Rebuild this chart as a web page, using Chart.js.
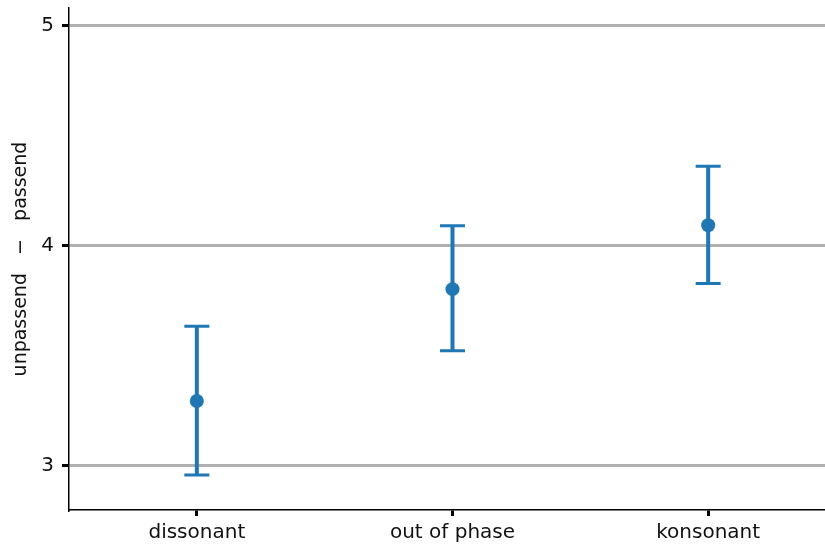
<!DOCTYPE html>
<html>
<head>
<meta charset="utf-8">
<script src="https://cdn.jsdelivr.net/npm/chart.js@4"></script>
<style>
  html, body { margin: 0; padding: 0; background: #fff; }
  #wrap { width: 825px; height: 545px; }
</style>
</head>
<body>
<div id="wrap"><canvas id="c" width="825" height="545"></canvas></div>
<script>
const categories = ["dissonant", "out of phase", "konsonant"];
const means = [3.295, 3.803, 4.093];
const upper = [3.634, 4.091, 4.361];
const lower = [2.959, 3.523, 3.829];
const yTicks = [3, 4, 5];

const blue = "#1f77b4";

const errorBars = {
  id: "errorBars",
  beforeDatasetsDraw(chart) {
    const ctx = chart.ctx;
    const xs = chart.scales.x, ys = chart.scales.y;
    ctx.save();
    ctx.strokeStyle = blue;
    categories.forEach((c, i) => {
      const x = xs.getPixelForValue(i);
      const yt = ys.getPixelForValue(upper[i]);
      const yb = ys.getPixelForValue(lower[i]);
      ctx.lineWidth = 4;
      ctx.beginPath();
      ctx.moveTo(x, yt); ctx.lineTo(x, yb);
      ctx.stroke();
      ctx.lineWidth = 3;
      ctx.beginPath();
      ctx.moveTo(x - 12.5, yt); ctx.lineTo(x + 12.5, yt);
      ctx.moveTo(x - 12.5, yb); ctx.lineTo(x + 12.5, yb);
      ctx.stroke();
    });
    ctx.restore();
  }
};

new Chart(document.getElementById("c"), {
  type: "scatter",
  data: {
    datasets: [{
      data: means.map((m, i) => ({ x: i, y: m })),
      backgroundColor: blue,
      borderColor: blue,
      pointRadius: 7,
      pointHoverRadius: 7,
      borderWidth: 0
    }]
  },
  options: {
    responsive: false,
    animation: false,
    devicePixelRatio: 1,
    layout: { autoPadding: false, padding: { top: 8, right: 0, left: 0, bottom: 0 } },
    plugins: { legend: { display: false }, tooltip: { enabled: false } },
    scales: {
      x: {
        type: "linear",
        min: -0.5,
        max: 2.457,
        afterBuildTicks(s) { s.ticks = categories.map((c, i) => ({ value: i })); },
        afterFit(s) { s.height = 35; s.paddingLeft = 0; s.paddingRight = 0; },
        ticks: {
          callback: (v) => categories[v],
          color: "#111",
          font: { family: "DejaVu Sans", size: 20 },
          padding: 5,
          maxRotation: 0,
          autoSkip: false
        },
        grid: {
          drawOnChartArea: false,
          drawTicks: true,
          tickLength: 6,
          tickColor: "#000",
          tickWidth: 3
        },
        border: { color: "#000", width: 1.5 }
      },
      y: {
        min: 2.8,
        max: 5.08,
        afterBuildTicks(s) { s.ticks = yTicks.map(v => ({ value: v })); },
        afterFit(s) { s.width = 69; s.paddingTop = 0; s.paddingBottom = 0; },
        ticks: {
          color: "#111",
          font: { family: "DejaVu Sans", size: 20 },
          padding: 8
        },
        grid: {
          color: "#b0b0b0",
          lineWidth: 3,
          drawTicks: true,
          tickLength: 7,
          tickColor: "#000",
          tickWidth: 3
        },
        border: { color: "#000", width: 1.5 },
        title: {
          display: true,
          text: "unpassend   \u2212   passend",
          color: "#111",
          font: { family: "DejaVu Sans", size: 19 },
          padding: { top: 10, bottom: 4 }
        }
      }
    }
  },
  plugins: [errorBars]
});
</script>
</body>
</html>
